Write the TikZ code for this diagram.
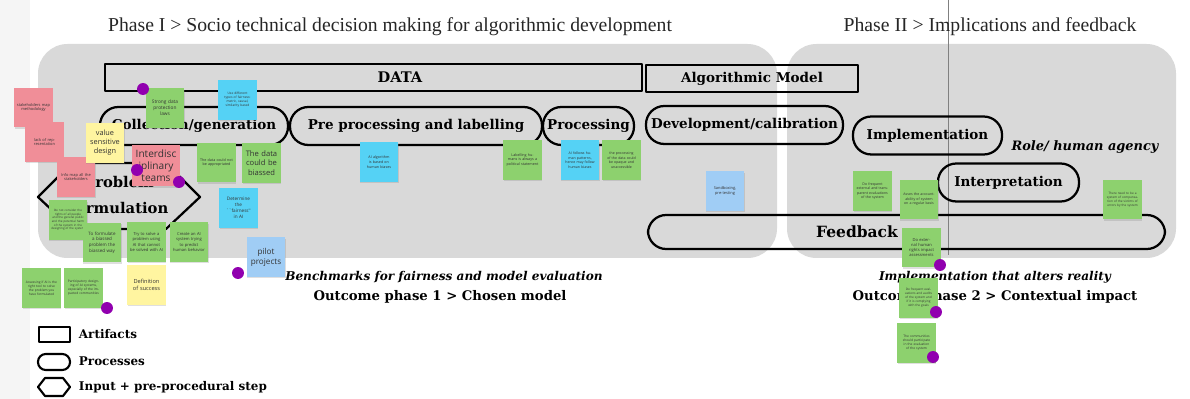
\documentclass[tikz,border=0pt]{standalone}
\usepackage{fontspec}
\setmainfont{DejaVu Serif}
\newfontfamily\notefont{Open Sans}
\newfontfamily\headfont{Liberation Serif}
\usetikzlibrary{shadows}
\definecolor{panel}{RGB}{217,217,217}
\definecolor{notegreen}{RGB}{141,209,110}
\definecolor{notepink}{RGB}{240,142,152}
\definecolor{noteyellow}{RGB}{255,245,160}
\definecolor{notecyan}{RGB}{85,210,245}
\definecolor{noteblue}{RGB}{160,205,245}
\definecolor{pindot}{RGB}{145,0,175}
\begin{document}
\begin{tikzpicture}[x=0.025cm,y=-0.025cm,line join=round,
    artifact/.style={draw,line width=1.6pt,minimum height=19pt,inner sep=0pt,font=\bfseries\fontsize{9.6}{11}\selectfont},
    process/.style={draw,rounded corners=13pt,line width=1.6pt,minimum height=27pt,inner sep=0pt,font=\bfseries\fontsize{9.6}{11}\selectfont},
    note/.style={minimum width=27.5pt,minimum height=28pt,text width=24pt,inner sep=1pt,align=center,text=black!80,
        drop shadow={shadow xshift=.4pt,shadow yshift=-1.2pt,opacity=.25}},
    dot/.style={circle,fill=pindot,inner sep=0pt,minimum size=8.5pt}]
    \useasboundingbox (0,0) rectangle (1190,399);
    \fill[black!4] (0,0) rectangle (30,399);
    % the two phases
    \fill[panel,rounded corners=21pt] (38,44) rectangle (777,258);
    \fill[panel,rounded corners=21pt] (787,44) rectangle (1176,258);
    \draw[black!50,line width=.4pt] (948,0)--(948,255);
    \node[text=black!85,font=\headfont\fontsize{14}{16}\selectfont] (ph1) at (390,27) {Phase I > Socio technical decision making for algorithmic development};
    \node[text=black!85,font=\headfont\fontsize{14}{16}\selectfont] (ph2) at (990,27) {Phase II > Implications and feedback};
    % artifacts and processes
    \node[artifact,minimum width=382pt] (data) at (373.5,77.5) {};
    \node[font=\bfseries\fontsize{10.4}{12}\selectfont] (datat) at (400,77.5) {DATA};
    \node[artifact,minimum width=150.8pt] (algo) at (752,78.5) {Algorithmic Model};
    \node[process,minimum width=133.7pt] (coll) at (194,126) {Collection/generation};
    \node[process,minimum width=179.2pt] (prep) at (416,126) {Pre processing and labelling};
    \node[process,minimum width=64.7pt] (proc) at (588.5,126) {Processing};
    \node[process,minimum width=140.1pt] (devc) at (744.5,125) {Development/calibration};
    \node[process,minimum width=106pt] (impl) at (927.5,135.5) {Implementation};
    \node[process,minimum width=100.3pt] (intp) at (1008.5,182.5) {Interpretation};
    \node[process,minimum width=367.7pt,minimum height=24.2pt] (feed) at (906.5,232) {};
    \node[font=\bfseries\fontsize{11}{12}\selectfont] (feedt) at (857,232) {Feedback};
    \node[font=\bfseries\itshape\fontsize{9.2}{11}\selectfont] (role) at (1085,147) {Role/ human agency};
    \draw[line width=1.6pt] (38,197)--(72,163)--(166,163)--(200,197)--(166,229)--(72,229)--cycle;
    \node[align=center,font=\bfseries\fontsize{10.5}{18}\selectfont] (probl) at (119,195) {Problem\\formulation};
    % outcomes
    \node[font=\bfseries\itshape\fontsize{8.6}{10}\selectfont] (bench) at (444,277) {Benchmarks for fairness and model evaluation};
    \node[font=\bfseries\fontsize{9.4}{11}\selectfont] (out1) at (440,297) {Outcome phase 1 > Chosen model};
    \node[font=\bfseries\itshape\fontsize{8.6}{10}\selectfont] (alter) at (995,277) {Implementation that alters reality};
    \node[font=\bfseries\fontsize{9.4}{11}\selectfont] (out2) at (995,297) {Outcome phase 2 > Contextual impact};
    % legend
    \draw[line width=1.5pt] (39,327) rectangle (70,342);
    \draw[line width=1.5pt,rounded corners=5.5pt] (38,354) rectangle (70,370);
    \draw[line width=1.5pt] (38,387)--(45,378)--(63,378)--(70,387)--(63,396)--(45,396)--cycle;
    \node[anchor=west,font=\bfseries\fontsize{8.5}{10}\selectfont] (lg1) at (74,334) {Artifacts};
    \node[anchor=west,font=\bfseries\fontsize{8.5}{10}\selectfont] (lg2) at (74,361) {Processes};
    \node[anchor=west,font=\bfseries\fontsize{8.5}{10}\selectfont] (lg3) at (74,387) {Input + pre-procedural step};
    % sticky notes
    \foreach \n/\x/\y/\c/\s/\b/\t in {
        stmap/33.5/107.5/notepink/2.8/3.4/{stakeholders map methodology},
        lack/44.5/142/notepink/2.8/3.4/{lack of representation},
        infomap/76/177/notepink/2.8/3.4/{Info map all the stakeholders},
        vsd/105/143/noteyellow/5.2/6.4/{value\\sensitive\\design},
        laws/165/108/notegreen/3.4/4.4/{Strong data\\protection\\laws},
        fair/237.5/100/notecyan/2.3/2.9/{Use different types of fairness: metric, causal, similarity based},
        appro/216.5/162.5/notegreen/2.6/3.3/{The data could not be appropriated},
        bias/261.5/163/notegreen/5.4/6.6/{The data\\could be\\biassed},
        determ/238.5/208/notecyan/3.3/4.2/{Determine\\the\\``fairness''\\in AI},
        pilot/266/257/noteblue/5.8/7/{pilot\\projects},
        consid/68/220/notegreen/2.1/2.6/{Do not consider the rights of all people and the general public and the potential harm of the system in the designing of the system},
        formul/102/242.5/notegreen/3.2/4/{To formulate a biassed problem the biassed way},
        solve/146.5/242/notegreen/2.9/3.7/{Try to solve a problem using AI that cannot be solved with AI},
        create/189/242/notegreen/2.9/3.7/{Create an AI system trying to predict human behavior},
        success/146.5/285/noteyellow/4/5.2/{Definition\\of success},
        assess/41.5/288/notegreen/2.3/2.9/{Assessing if AI is the right tool to solve the problem you have formulated},
        partic/83.5/288/notegreen/2.3/2.9/{Participatory designing of AI systems, especially of the impacted communities},
        aibias/379/162/notecyan/2.6/3.3/{AI algorithm is based on human biases},
        label/522.5/160/notegreen/2.6/3.3/{Labelling humans is always a political statement},
        pattern/580/160/notecyan/2.5/3.2/{AI follows human patterns, hence may follow human biases},
        opaque/621.5/160/notegreen/2.5/3.2/{the processing of the data could be opaque and unaccessible},
        sandbox/725/191/noteblue/2.8/3.6/{Sandboxing,\\pre-testing},
        frequ/872.5/191/notegreen/2.5/3.2/{Do frequent external and transparent evaluations of the system},
        accnt/919/199.5/notegreen/2.5/3.2/{Asses the accountability of system on a regular basis},
        hra/921.5/247.5/notegreen/2.9/3.7/{Do external human rights impact assessments},
        audit/918.5/298/notegreen/2.2/2.8/{Do frequent evaluations and audits of the system and if it is complying with the goals},
        commu/916.5/343/notegreen/2.3/2.9/{The communities should participate in the evaluation of the system},
        compen/1122.5/199.5/notegreen/2.2/2.8/{There need to be a system of compensation of the victims of errors by the system}}
        \node[note,fill=\c,font=\notefont\fontsize{\s}{\b}\selectfont] (\n) at (\x,\y) {\t};
    \node[note,fill=notepink,minimum width=34pt,minimum height=29pt,text width=32pt,font=\notefont\fontsize{7.2}{8.6}\selectfont] (interd) at (156,165.5) {Interdisc\\iplinary\\teams};
    \foreach \i/\x/\y in {1/143/89,2/137/170,3/179/182,4/238/273,5/107/308,6/940/265,7/936/312,8/933/357}
        \node[dot] (d\i) at (\x,\y) {};
\end{tikzpicture}
\end{document}
